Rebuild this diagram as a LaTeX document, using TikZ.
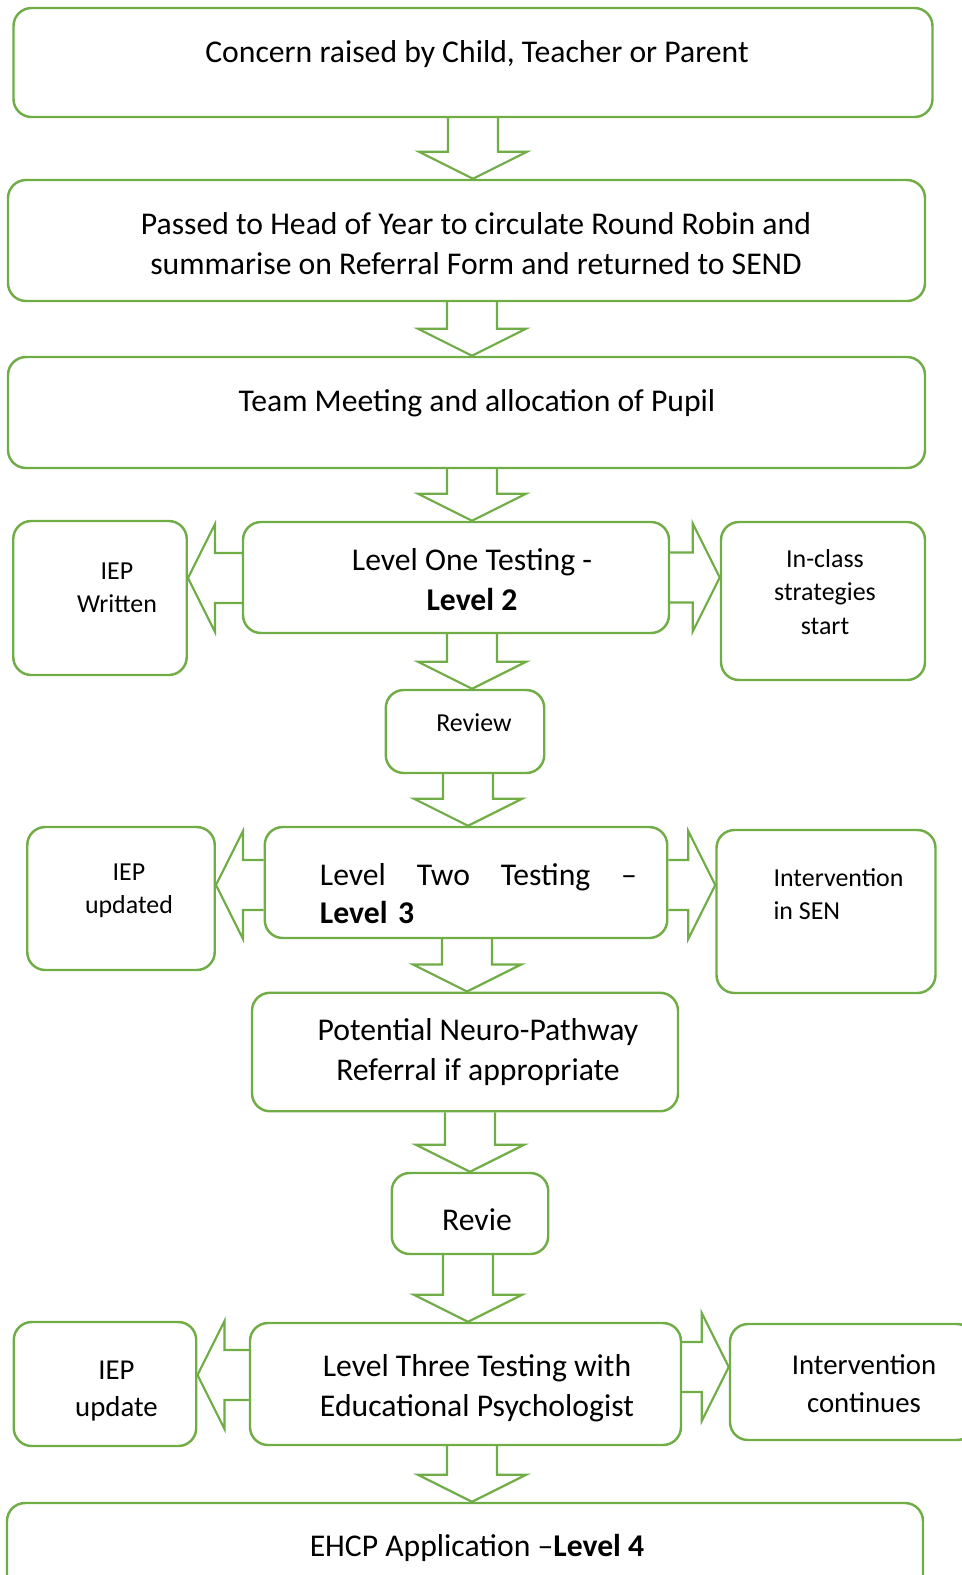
\documentclass[tikz,border=0pt]{standalone}
\usepackage{fontspec}
\setmainfont{Carlito}
\usetikzlibrary{calc}

\definecolor{leaf}{HTML}{70AD47}
\def\sz{0.0122cm}

% hollow block arrow from #1 to tip #2
\newcommand{\blockarrow}[2]{%
  \coordinate (bs) at (#1);
  \coordinate (bt) at (#2);
  \coordinate (bh) at ($(bt)!27*\sz!(bs)$);
  \draw[blockline] ($(bs)!25*\sz!90:(bt)$) -- ($(bh)!25*\sz!90:(bt)$)
    -- ($(bh)!54*\sz!90:(bt)$) -- (bt) -- ($(bh)!54*\sz!-90:(bt)$)
    -- ($(bh)!25*\sz!-90:(bt)$) -- ($(bs)!25*\sz!-90:(bt)$);
}

\tikzset{
  box/.style={draw=leaf, line width=0.85pt, rounded corners=0.22cm, inner sep=0pt},
  boxsize/.style 2 args={minimum width=#1*\sz, minimum height=#2*\sz},
  txt/.style={font=\fontsize{11}{13.9}\selectfont, align=center, inner sep=0pt},
  small/.style={font=\fontsize{9}{11.5}\selectfont},
  mid/.style={font=\fontsize{10}{13}\selectfont},
  blockline/.style={draw=leaf, line width=0.75pt, line join=miter},
}

\begin{document}
\begin{tikzpicture}[x=\sz, y=-\sz]
\useasboundingbox (0,0) rectangle (962,1575);

% main column
\node[box, boxsize={919}{109}, label={[txt, xshift=4*\sz, yshift=8.5*\sz]center:{Concern raised by Child, Teacher or Parent}}] (concern) at (473,62.5) {};
\node[box, boxsize={917}{121}, label={[txt, xshift=9.5*\sz, yshift=-3.5*\sz]center:{Passed to Head of Year to circulate Round Robin and\\summarise on Referral Form and returned to SEND}}] (headyear) at (466.5,240.5) {};
\node[box, boxsize={917}{111}, label={[txt, xshift=10.5*\sz, yshift=9*\sz]center:{Team Meeting and allocation of Pupil}}] (meeting) at (466.5,412.5) {};
\node[box, boxsize={426}{111}, label={[txt, xshift=16*\sz, yshift=-2.5*\sz]center:{Level One Testing -\\\textbf{Level 2}}}] (lvlone) at (456,577.5) {};
\node[box, boxsize={158.5}{83}, label={[txt, small, xshift=9*\sz, yshift=8.5*\sz]center:{Review}}] (review1) at (465,731.5) {};
\node[box, boxsize={402.5}{111}, label={[txt, align=left, text width=3.87cm, font=\fontsize{11}{13.2}\selectfont, xshift=12.5*\sz, yshift=-11.5*\sz]center:{Level\hfill Two\hfill Testing\hfill –\\\textbf{Level 3}}}] (lvltwo) at (466,882.5) {};
\node[box, boxsize={426}{118.5}, label={[txt, xshift=13*\sz]center:{Potential Neuro-Pathway\\Referral if appropriate}}] (neuro) at (465,1052) {};
\node[box, boxsize={156.5}{81}, label={[txt, xshift=7*\sz, yshift=-6.5*\sz]center:{Revie}}] (review2) at (470,1213.5) {};
\node[box, boxsize={431}{122}, label={[txt, xshift=11.5*\sz, yshift=-4*\sz]center:{Level Three Testing with\\Educational Psychologist}}] (lvlthree) at (465.5,1384) {};
\node[box, boxsize={916}{110}, label={[txt, xshift=12*\sz, yshift=10*\sz]center:{EHCP Application –\textbf{Level 4}}}] (ehcp) at (465,1558) {};

% side boxes
\node[box, boxsize={173.5}{154}, label={[txt, small, xshift=17*\sz, yshift=10*\sz]center:{IEP\\Written}}] (iepwritten) at (100,598) {};
\node[box, boxsize={204}{158}, label={[txt, small, xshift=2*\sz, yshift=9*\sz]center:{In-class\\strategies\\start}}] (inclass) at (823,601) {};
\node[box, boxsize={187.5}{143}, label={[txt, small, xshift=8*\sz, yshift=7.5*\sz]center:{IEP\\updated}}] (iepupdated) at (121,898.5) {};
\node[box, boxsize={219}{163}, label={[txt, small, align=left, xshift=12.5*\sz, yshift=17*\sz]center:{Intervention\\in SEN}}] (insen) at (826,911.5) {};
\node[box, boxsize={182.5}{124}, label={[txt, mid, xshift=11.5*\sz, yshift=-7*\sz]center:{IEP\\update}}] (iepupdate) at (105,1384) {};
\node[box, boxsize={245}{116}, label={[txt, mid, xshift=11.5*\sz, yshift=-1.5*\sz]center:{Intervention\\continues}}] (continues) at (852.5,1382) {};

% down arrows
\blockarrow{473,0 |- concern.south}{473,0 |- headyear.north}
\blockarrow{472,0 |- headyear.south}{472,0 |- meeting.north}
\blockarrow{472,0 |- meeting.south}{472,0 |- lvlone.north}
\blockarrow{472,0 |- lvlone.south}{472,0 |- review1.north}
\blockarrow{468,0 |- review1.south}{468,0 |- lvltwo.north}
\blockarrow{467,0 |- lvltwo.south}{467,0 |- neuro.north}
\blockarrow{470,0 |- neuro.south}{470,0 |- review2.north}
\blockarrow{468,0 |- review2.south}{468,0 |- lvlthree.north}
\blockarrow{472,0 |- lvlthree.south}{472,0 |- ehcp.north}

% side arrows
\blockarrow{lvlone.west |- 0,578}{iepwritten.east |- 0,578}
\blockarrow{lvlone.east |- 0,577.5}{inclass.west |- 0,577.5}
\blockarrow{lvltwo.west |- 0,885}{iepupdated.east |- 0,885}
\blockarrow{lvltwo.east |- 0,885}{insen.west |- 0,885}
\blockarrow{lvlthree.west |- 0,1375}{iepupdate.east |- 0,1375}
\blockarrow{lvlthree.east |- 0,1367}{continues.west |- 0,1367}

\end{tikzpicture}
\end{document}
